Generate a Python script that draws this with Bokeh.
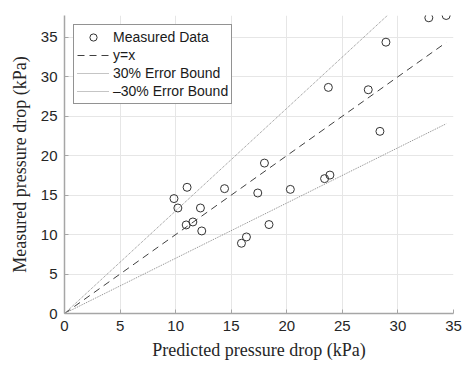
from bokeh.plotting import figure
from bokeh.models import Range1d, FixedTicker, Legend
from bokeh.embed import file_html
from bokeh.resources import INLINE

# Predicted vs. measured pressure drop (kPa)
predicted = [9.85, 10.2, 11.03, 10.95, 11.55, 12.23, 12.35, 14.4, 15.92, 16.37, 17.39,
             17.99, 18.4, 20.32, 23.4, 23.88, 23.74, 27.33, 28.38, 28.92, 32.78, 34.34]
measured = [14.56, 13.37, 15.99, 11.22, 11.6, 13.37, 10.46, 15.82, 8.9, 9.7, 15.27,
            19.06, 11.27, 15.73, 17.09, 17.54, 28.65, 28.35, 23.08, 34.38, 37.47, 37.76]
ticks = [0, 5, 10, 15, 20, 25, 30, 35]
error_bound = 0.30

x_max = 35
y_max = max(measured)
line_x = [0, max(predicted)]

p = figure(width=465, height=365, output_backend="svg", toolbar_location=None,
           x_range=Range1d(0, x_max), y_range=Range1d(0, y_max),
           min_border_left=64, min_border_right=12, min_border_top=15, min_border_bottom=52)
p.outline_line_color = None
p.background_fill_color = "white"
p.border_fill_color = "white"

r_data = p.scatter(predicted, measured, marker="circle", size=8, fill_color=None,
                   line_color="#333333", line_width=1)
r_eq = p.line(line_x, line_x, line_color="#404040", line_width=1, line_dash="7 5")
r_up = p.line(line_x, [v * (1 + error_bound) for v in line_x], line_color="#8a8a8a",
              line_width=1, line_dash="1 1")
r_lo = p.line(line_x, [v * (1 - error_bound) for v in line_x], line_color="#8a8a8a",
              line_width=1, line_dash="1 1")

legend = Legend(items=[("Measured Data", [r_data]), ("y=x", [r_eq]),
                       ("30% Error Bound", [r_up]), ("\u201330% Error Bound", [r_lo])],
                location="top_left")
legend.margin = 9
legend.padding = 3
legend.spacing = 0
legend.glyph_width = 32
legend.glyph_height = 18
legend.label_height = 18
legend.label_standoff = 4
legend.label_text_font = "Liberation Sans"
legend.label_text_font_size = "14px"
legend.label_text_color = "#1a1a1a"
legend.border_line_color = "#262626"
legend.border_line_width = 1
legend.background_fill_alpha = 1
p.add_layout(legend)

for ax in (p.xaxis[0], p.yaxis[0]):
    ax.ticker = FixedTicker(ticks=ticks)
    ax.axis_line_color = "#a6a6a6"
    ax.axis_line_width = 1.5
    ax.major_tick_in = 4
    ax.major_tick_out = 0
    ax.major_tick_line_color = "#a6a6a6"
    ax.minor_tick_line_color = None
    ax.major_label_text_font = "Liberation Sans"
    ax.major_label_text_font_size = "15px"
    ax.major_label_text_color = "#262626"
    ax.axis_label_text_font = "Liberation Serif"
    ax.axis_label_text_font_size = "18px"
    ax.axis_label_text_font_style = "normal"
    ax.axis_label_text_color = "#262626"

p.xaxis.axis_label = "Predicted pressure drop (kPa)"
p.yaxis.axis_label = "Measured pressure drop (kPa)"
p.xaxis.major_label_standoff = 7
p.yaxis.major_label_standoff = 7
p.xaxis.axis_label_standoff = 6
p.yaxis.axis_label_standoff = 8

p.grid.grid_line_color = "#e6e6e6"
p.grid.grid_line_width = 1

open("out.html", "w").write(file_html(p, INLINE))
